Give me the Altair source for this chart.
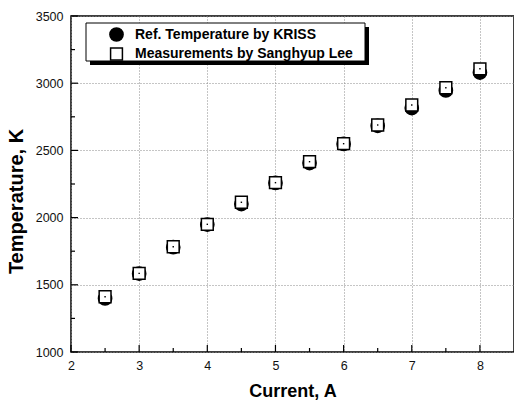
import altair as alt
import pandas as pd

current = [2.5, 3.0, 3.5, 4.0, 4.5, 5.0, 5.5, 6.0, 6.5, 7.0, 7.5, 8.0]
ref_temp = [1398, 1583, 1780, 1948, 2101, 2258, 2406, 2548, 2683, 2815, 2946, 3079]
meas_temp = [1411, 1585, 1783, 1950, 2114, 2260, 2416, 2550, 2689, 2838, 2966, 3107]
series_names = ["Ref. Temperature by KRISS", "Measurements by Sanghyup Lee"]

x_major = [2, 3, 4, 5, 6, 7, 8]
x_minor = [2.5, 3.5, 4.5, 5.5, 6.5, 7.5]
y_major = [1000, 1500, 2000, 2500, 3000, 3500]
y_minor = [1250, 1750, 2250, 2750, 3250]

df = pd.DataFrame({
    "current": current + current,
    "temp": ref_temp + meas_temp,
    "series": [series_names[0]] * len(current) + [series_names[1]] * len(current),
})
meas_df = pd.DataFrame({"current": current, "temp": meas_temp})

W, H = 443, 336
FONT = "Liberation Sans"
xscale = alt.Scale(domain=[2, 8.5], nice=False, zero=False)
yscale = alt.Scale(domain=[1000, 3500], nice=False, zero=False)

x_axis = alt.Axis(values=x_major, format="d", title="Current, A", grid=True,
                  gridColor="#8a8a8a", gridDash=[1, 2], gridWidth=1,
                  ticks=False, tickSize=0, domain=False, labelPadding=7,
                  labelFontSize=12.5, titleFontSize=18, titleFontWeight="bold",
                  titleY=39, titleBaseline="middle", labelFlush=False)
y_axis = alt.Axis(values=y_major, format="d", title="Temperature, K", grid=True,
                  gridColor="#8a8a8a", gridDash=[1, 2], gridWidth=1,
                  ticks=False, tickSize=0, domain=False, labelPadding=8,
                  labelFontSize=12.5, titleFontSize=20, titleFontWeight="bold",
                  titleX=-55, titleY=185, titleAlign="center", titleBaseline="middle",
                  titleAngle=270, labelFlush=False)

legend = alt.Legend(orient="none", legendX=38, legendY=11, title=None,
                    labelFontSize=14, labelFontWeight="bold", labelColor="black",
                    labelFont=FONT, labelLimit=0,
                    symbolStrokeColor="black", symbolStrokeWidth=1.5,
                    rowPadding=0, labelOffset=11, padding=0)

fill_scale = alt.Scale(domain=series_names, range=["black", "white"])
shape_scale = alt.Scale(domain=series_names, range=["circle", "square"])
stroke_scale = alt.Scale(domain=series_names, range=["black", "black"])
size_scale = alt.Scale(domain=series_names, range=[175, 140])

one = pd.DataFrame({"k": [0]})
shadow = alt.Chart(one).mark_rect(fill="black").encode(
    x=alt.value(19), x2=alt.value(298), y=alt.value(11), y2=alt.value(49))
box = alt.Chart(one).mark_rect(fill="white", stroke="black", strokeWidth=1).encode(
    x=alt.value(15), x2=alt.value(294), y=alt.value(7), y2=alt.value(45))

points = alt.Chart(df).mark_point(strokeWidth=1.5, opacity=1, fillOpacity=1).encode(
    x=alt.X("current:Q", scale=xscale, axis=x_axis),
    y=alt.Y("temp:Q", scale=yscale, axis=y_axis),
    fill=alt.Fill("series:N", scale=fill_scale, legend=legend, sort=series_names),
    shape=alt.Shape("series:N", scale=shape_scale, legend=legend, sort=series_names),
    stroke=alt.Stroke("series:N", scale=stroke_scale, legend=legend, sort=series_names),
    size=alt.Size("series:N", scale=size_scale, legend=legend, sort=series_names),
)

dots = alt.Chart(meas_df).mark_square(size=2, color="black", opacity=1).encode(
    x=alt.X("current:Q", scale=xscale, axis=x_axis),
    y=alt.Y("temp:Q", scale=yscale, axis=y_axis),
)

def xticks(vals, length):
    return alt.Chart(pd.DataFrame({"v": vals})).mark_rule(color="black", strokeWidth=1.2).encode(
        x=alt.X("v:Q", scale=xscale, axis=x_axis), y=alt.value(H), y2=alt.value(H - length))

def yticks(vals, length):
    return alt.Chart(pd.DataFrame({"v": vals})).mark_rule(color="black", strokeWidth=1.2).encode(
        y=alt.Y("v:Q", scale=yscale, axis=y_axis), x=alt.value(0), x2=alt.value(length))

chart = alt.layer(
    shadow, box, points, dots,
    xticks(x_major, 7), xticks(x_minor, 4), yticks(y_major, 7), yticks(y_minor, 4),
).properties(
    width=W, height=H,
    autosize=alt.AutoSizeParams(type="none"),
    padding={"left": 71, "top": 16, "right": 0, "bottom": 50},
    background="white",
).configure_view(
    stroke="black", strokeWidth=1.5
).configure_axis(
    labelFont=FONT, titleFont=FONT, labelColor="#111", titleColor="black"
)

chart.save("out.html", embed_options={"renderer": "svg", "actions": False})
